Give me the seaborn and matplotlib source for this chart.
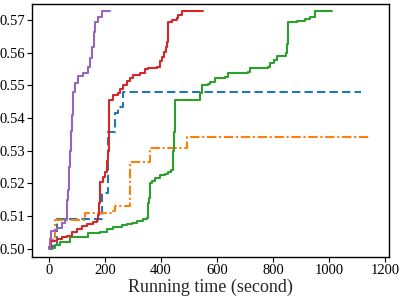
import matplotlib
matplotlib.use("Agg")
import matplotlib.pyplot as plt
import seaborn as sns
import pandas as pd

# ---- data ----
blue_x = [0, 12, 27, 188, 212, 236, 245, 265, 1114]
blue_y = [0.5000, 0.5008, 0.5090, 0.5170, 0.5358, 0.5414, 0.5435, 0.5479, 0.5479]

orange_x = [0, 5, 15, 21, 129, 224, 236, 289, 361, 492, 1152]
orange_y = [0.5000, 0.5020, 0.5037, 0.5088, 0.5111, 0.5116, 0.5131, 0.5266, 0.5307, 0.5341, 0.5341]

green_x = [0, 21, 39, 75, 140, 182, 206, 230, 260, 277, 295, 313, 337, 349, 355, 358, 361,
           367, 379, 396, 414, 426, 436, 442, 446, 450, 539, 545, 569, 575, 593, 629, 640,
           712, 718, 783, 789, 804, 815, 846, 851, 855, 885, 914, 932, 950, 1010]
green_y = [0.5003, 0.5011, 0.5021, 0.5035, 0.5047, 0.5052, 0.5060, 0.5066, 0.5073, 0.5076,
           0.5080, 0.5086, 0.5090, 0.5093, 0.5139, 0.5154, 0.5200, 0.5207, 0.5216, 0.5226,
           0.5229, 0.5236, 0.5240, 0.5300, 0.5358, 0.5455, 0.5476, 0.5501, 0.5503, 0.5511,
           0.5522, 0.5527, 0.5539, 0.5542, 0.5554, 0.5557, 0.5568, 0.5578, 0.5591, 0.5598,
           0.5626, 0.5695, 0.5697, 0.5703, 0.5710, 0.5726, 0.5726]

red_x = [0, 6, 27, 45, 63, 81, 99, 117, 135, 158, 170, 176, 180, 182, 194, 200, 208, 212,
         214, 216, 230, 248, 254, 265, 277, 289, 301, 325, 343, 355, 385, 396, 402, 411, 418,
         422, 426, 438, 456, 462, 474, 551]
red_y = [0.5006, 0.5025, 0.5029, 0.5035, 0.5039, 0.5052, 0.5060, 0.5070, 0.5076, 0.5083,
         0.5088, 0.5103, 0.5139, 0.5205, 0.5220, 0.5236, 0.5270, 0.5300, 0.5400, 0.5456,
         0.5470, 0.5476, 0.5490, 0.5500, 0.5513, 0.5522, 0.5532, 0.5537, 0.5550, 0.5554,
         0.5557, 0.5573, 0.5588, 0.5603, 0.5618, 0.5634, 0.5695, 0.5700, 0.5705, 0.5715,
         0.5726, 0.5726]

purple_x = [0, 3, 8, 20, 30, 45, 58, 63, 66, 68, 70, 72, 75, 78, 81, 84, 86, 93, 105, 122,
            140, 146, 155, 162, 164, 176, 188, 218]
purple_y = [0.5000, 0.5030, 0.5055, 0.5057, 0.5065, 0.5080, 0.5090, 0.5110, 0.5150, 0.5180,
            0.5210, 0.5250, 0.5300, 0.5360, 0.5410, 0.5450, 0.5479, 0.5506, 0.5530, 0.5537,
            0.5557, 0.5583, 0.5618, 0.5664, 0.5695, 0.5710, 0.5726, 0.5726]

x_ticks = [0, 200, 400, 600, 800, 1000, 1200]
y_ticks = [0.50, 0.51, 0.52, 0.53, 0.54, 0.55, 0.56, 0.57]
x_label = "Running time (second)"

# ---- plotting ----
sns.set_style("ticks")
plt.rcParams["font.family"] = ["Liberation Serif", "DejaVu Serif"]
plt.rcParams["mathtext.fontset"] = "stix"

fig = plt.figure(figsize=(4.01, 3.03), dpi=100)
ax = fig.add_axes([0.081, 0.153, 0.888, 0.834])

pal = sns.color_palette("tab10")
series = [
    (blue_x, blue_y, pal[0], (0, (4, 2)), 1.5),
    (orange_x, orange_y, pal[1], (0, (4.5, 1.3, 1, 1.3)), 1.5),
    (green_x, green_y, pal[2], "-", 1.5),
    (red_x, red_y, pal[3], "-", 1.5),
    (purple_x, purple_y, pal[4], "-", 1.5),
]
for xs, ys, col, ls, lw in series:
    df = pd.DataFrame({"x": xs, "y": ys})
    sns.lineplot(data=df, x="x", y="y", ax=ax, color=col, linestyle=ls, linewidth=lw,
                 drawstyle="steps-post", estimator=None, sort=False)

ax.set_xlim(-59, 1213)
ax.set_ylim(0.4976, 0.5749)
ax.set_xticks(x_ticks)
ax.set_yticks(y_ticks)
ax.set_yticklabels([f"{v:.2f}" for v in y_ticks])
ax.set_xlabel(x_label, fontsize=13, labelpad=1)
ax.set_ylabel("")
ax.tick_params(axis="both", labelsize=10.5, direction="out", length=3.5, width=0.8, pad=2,
               colors="black")
for s in ax.spines.values():
    s.set_visible(True)
    s.set_color("black")
    s.set_linewidth(1.0)

fig.savefig("out.png", dpi=100)
